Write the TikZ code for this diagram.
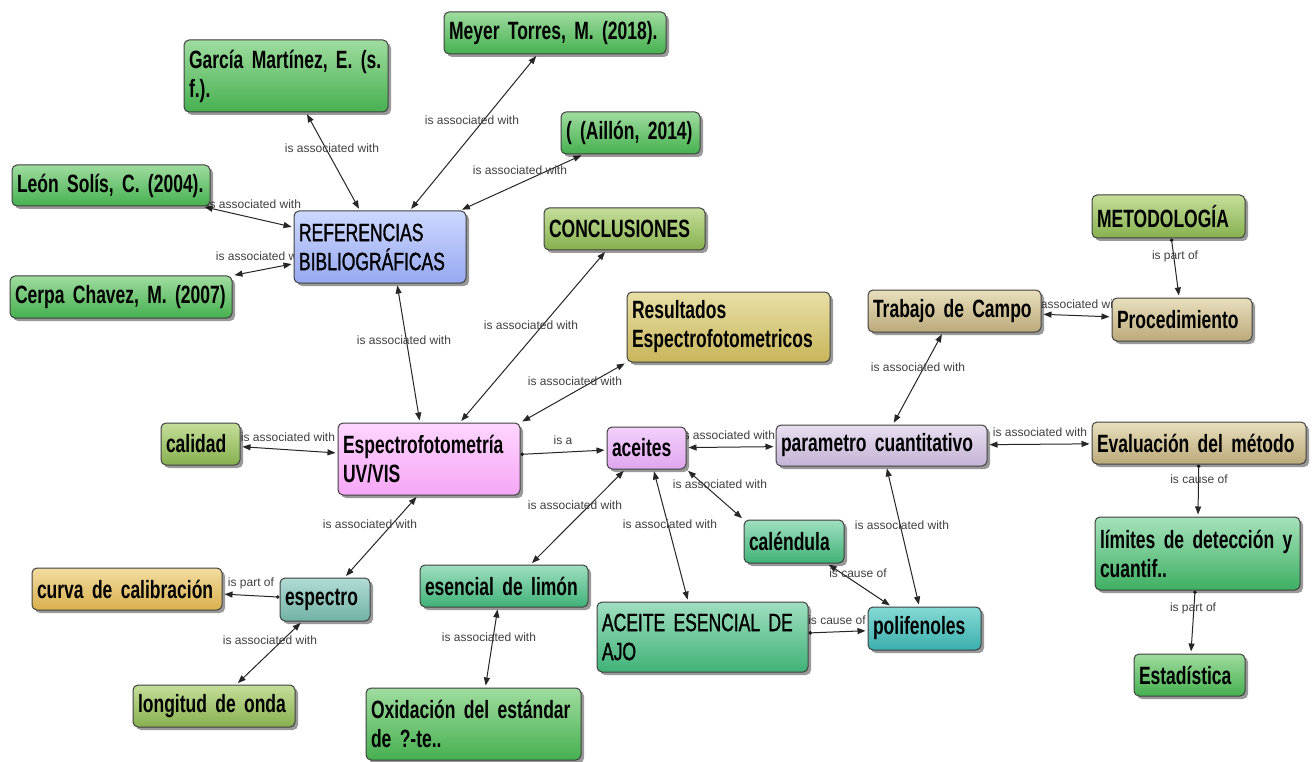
\documentclass[tikz,border=0pt]{standalone}
\usepackage{fontspec}
\setmainfont{Liberation Sans}
\newfontfamily\boxfont{Liberation Sans}[FakeStretch=0.70,WordSpace=0.65]
\newfontfamily\medfont{Liberation Sans}[FakeStretch=0.70,WordSpace=0.65,FakeBold=1.2]
\usetikzlibrary{arrows.meta,shadows}
\pgfdeclarelayer{background}
\pgfsetlayers{background,main}

% fill gradients: top / bottom colours of each concept family
\definecolor{refTop}{HTML}{9FDC9F}\definecolor{refBot}{HTML}{45B04F}
\definecolor{olvTop}{HTML}{C5DE9A}\definecolor{olvBot}{HTML}{86B04E}
\definecolor{bluTop}{HTML}{CDD8FF}\definecolor{bluBot}{HTML}{96A8F0}
\definecolor{khkTop}{HTML}{E8DFA6}\definecolor{khkBot}{HTML}{C8B65A}
\definecolor{tanTop}{HTML}{E8DFBD}\definecolor{tanBot}{HTML}{BBA97A}
\definecolor{pnkTop}{HTML}{FFD6FF}\definecolor{pnkBot}{HTML}{F5A6F5}
\definecolor{prpTop}{HTML}{F3D0FB}\definecolor{prpBot}{HTML}{E0A6EF}
\definecolor{lavTop}{HTML}{E8DEF0}\definecolor{lavBot}{HTML}{C4B4D6}
\definecolor{tealTop}{HTML}{9FDFC0}\definecolor{tealBot}{HTML}{3FB277}
\definecolor{cynTop}{HTML}{86DAD4}\definecolor{cynBot}{HTML}{3AAFAF}
\definecolor{gtlTop}{HTML}{B0DCD4}\definecolor{gtlBot}{HTML}{72B2A6}
\definecolor{orgTop}{HTML}{F2DCA0}\definecolor{orgBot}{HTML}{D9B04E}
\definecolor{lgrTop}{HTML}{A6E2BC}\definecolor{lgrBot}{HTML}{3DAF62}

\tikzset{
  cbox/.style={draw=black!75, line width=1pt, rounded corners=5pt,
    inner xsep=5pt, inner ysep=2pt, align=left,
    font=\boxfont\bfseries\fontsize{25}{29}\selectfont,
    drop shadow={shadow xshift=3pt,shadow yshift=-3pt,opacity=0.4,fill=black}},
  regular/.style={font=\medfont\fontsize{25}{29}\selectfont},
  fref/.style={top color=refTop,bottom color=refBot},
  folv/.style={top color=olvTop,bottom color=olvBot},
  fblu/.style={top color=bluTop,bottom color=bluBot},
  fkhk/.style={top color=khkTop,bottom color=khkBot},
  ftan/.style={top color=tanTop,bottom color=tanBot},
  fpnk/.style={top color=pnkTop,bottom color=pnkBot},
  fprp/.style={top color=prpTop,bottom color=prpBot},
  flav/.style={top color=lavTop,bottom color=lavBot},
  fteal/.style={top color=tealTop,bottom color=tealBot},
  fcyn/.style={top color=cynTop,bottom color=cynBot},
  fgtl/.style={top color=gtlTop,bottom color=gtlBot},
  forg/.style={top color=orgTop,bottom color=orgBot},
  flgr/.style={top color=lgrTop,bottom color=lgrBot},
  con/.style={draw=black!85, line width=1pt,
    {Triangle[length=8pt,width=6pt]}-{Triangle[length=8pt,width=6pt]},
    shorten >=2pt, shorten <=2pt},
  one/.style={draw=black!85, line width=1pt,
    {Circle[length=3.5pt]}-{Triangle[length=8pt,width=6pt]}, shorten >=2pt},
  lbl/.style={font=\fontsize{12}{14}\selectfont, text=black!75, inner sep=0pt}
}

% concept box from its corners: name, x1, y1, x2, y2, style, text
\newcommand\conceptbox[7]{%
  \pgfmathsetmacro\cbW{#4-#2}\pgfmathsetmacro\cbH{#5-#3}%
  \pgfmathsetmacro\cbT{#4-#2-10}%
  \pgfmathsetmacro\cbX{(#2+#4)/2}\pgfmathsetmacro\cbY{(#3+#5)/2}%
  \node[cbox,#6,minimum width=\cbW pt,minimum height=\cbH pt,
        text width=\cbT pt] (#1) at (\cbX,\cbY) {#7};}

\begin{document}
\begin{tikzpicture}[x=1pt,y=-1pt]
\useasboundingbox (0,0) rectangle (1315,762);

% concepts
\conceptbox{garcia}{184}{40}{388}{112}{fref}{García Martínez, E. (s.\\f.).}
\conceptbox{meyer}{444}{12}{666}{54}{fref}{Meyer Torres, M. (2018).}
\conceptbox{aillon}{561}{112}{700}{154}{fref}{( (Aillón, 2014)}
\conceptbox{leon}{12}{165}{210}{206}{fref}{León Solís, C. (2004).}
\conceptbox{refs}{294}{211}{466}{283}{fblu,regular}{REFERENCIAS\\BIBLIOGRÁFICAS}
\conceptbox{cerpa}{10}{276}{232}{318}{fref}{Cerpa~Chavez,~M.~(2007)}
\conceptbox{concl}{544}{208}{705}{250}{folv}{CONCLUSIONES}
\conceptbox{result}{627}{292}{830}{362}{fkhk}{Resultados\\Espectrofotometricos}
\conceptbox{metod}{1092}{195}{1245}{238}{folv}{METODOLOGÍA}
\conceptbox{trabajo}{868}{290}{1041}{332}{ftan}{Trabajo de Campo}
\conceptbox{proc}{1112}{298}{1252}{341}{ftan}{Procedimiento}
\conceptbox{calidad}{161}{423}{240}{465}{folv}{calidad}
\conceptbox{esp}{338}{423}{520}{495}{fpnk}{Espectrofotometría\\UV/VIS}
\conceptbox{aceites}{607}{427}{686}{469}{fprp}{aceites}
\conceptbox{param}{776}{425}{987}{466}{flav}{parametro cuantitativo}
\conceptbox{eval}{1092}{422}{1306}{464}{ftan}{Evaluación del método}
\conceptbox{cal}{744}{520}{844}{563}{fteal}{caléndula}
\conceptbox{lim}{1095}{517}{1300}{590}{flgr}{límites de detección y\\cuantif..}
\conceptbox{curva}{32}{568}{222}{610}{forg}{curva de calibración}
\conceptbox{espectro}{280}{578}{370}{621}{fgtl}{espectro}
\conceptbox{esencial}{420}{565}{588}{607}{fteal}{esencial de limón}
\conceptbox{ajo}{597}{602}{808}{672}{fteal,regular}{ACEITE ESENCIAL DE\\AJO}
\conceptbox{poli}{868}{607}{981}{650}{fcyn}{polifenoles}
\conceptbox{estad}{1134}{654}{1245}{696}{fref}{Estadística}
\conceptbox{longitud}{133}{685}{295}{727}{folv}{longitud de onda}
\conceptbox{oxid}{366}{688}{581}{760}{fref}{Oxidación del estándar\\de ?-te..}

% white page and links, kept under the boxes
\begin{pgfonlayer}{background}
\fill[white] (0,0) rectangle (1315,762);
\draw[con] (garcia) -- (refs) node[lbl] at (332,148) {is associated with};
\draw[con] (meyer) -- (refs) node[lbl] at (472,120) {is associated with};
\draw[con] (aillon) -- (refs) node[lbl] at (520,170) {is associated with};
\draw[con] (leon) -- (refs) node[lbl] at (254,204) {is associated with};
\draw[con] (cerpa) -- (refs) node[lbl] at (263,256) {is associated with};
\draw[con] (refs.-65) -- (esp.104) node[lbl] at (404,340) {is associated with};
\draw[con] (concl) -- (esp) node[lbl] at (531,325) {is associated with};
\draw[con] (result.south west) -- (esp.north east) node[lbl] at (575,381) {is associated with};
\draw[con] (calidad) -- (esp) node[lbl] at (288,437) {is associated with};
\draw[one] (esp) -- (aceites) node[lbl] at (563,440) {is a};
\draw[con] (aceites) -- (param) node[lbl] at (728,435) {is associated with};
\draw[con] (aceites.south east) -- (cal.north west) node[lbl] at (720,484) {is associated with};
\draw[con] (aceites) -- (esencial.39) node[lbl] at (575,505) {is associated with};
\draw[con] (aceites.-72) -- (ajo.112) node[lbl] at (670,524) {is associated with};
\draw[con] (param) -- (trabajo) node[lbl] at (918,367) {is associated with};
\draw[con] (param) -- (eval) node[lbl] at (1040,432) {is associated with};
\draw[con] (trabajo) -- (proc) node[lbl] at (1076,304) {is associated with};
\draw[one] (metod) -- (proc) node[lbl] at (1175,256) {is part of};
\draw[con] (param) -- (poli) node[lbl] at (902,525) {is associated with};
\draw[con] (cal) -- (poli) node[lbl] at (858,573) {is cause of};
\draw[one] (ajo) -- (poli) node[lbl] at (837,620) {is cause of};
\draw[one] (eval) -- (lim) node[lbl] at (1199,479) {is cause of};
\draw[one] (lim) -- (estad) node[lbl] at (1193,608) {is part of};
\draw[con] (esp.-107) -- (espectro) node[lbl] at (370,524) {is associated with};
\draw[one] (espectro) -- (curva) node[lbl] at (251,583) {is part of};
\draw[con] (espectro) -- (longitud) node[lbl] at (270,640) {is associated with};
\draw[con] (esencial.-106) -- (oxid.72) node[lbl] at (489,637) {is associated with};
\end{pgfonlayer}
\end{tikzpicture}
\end{document}
